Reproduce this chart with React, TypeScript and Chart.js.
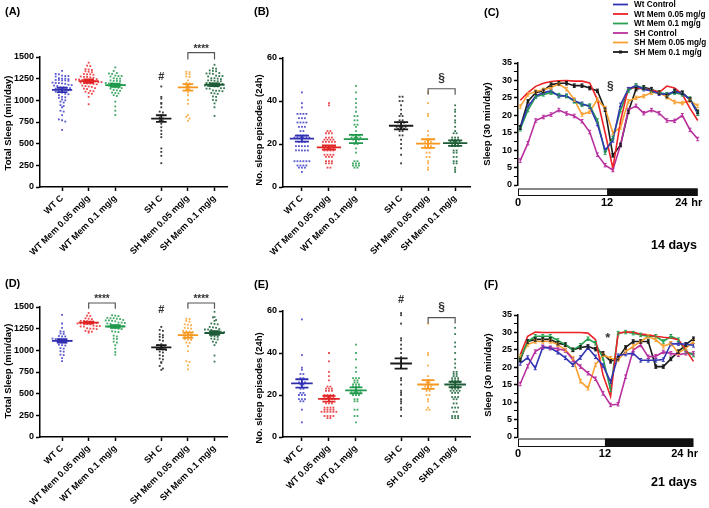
import React, { useEffect, useRef } from "react";
import { Chart, registerables } from "chart.js";
Chart.register(...registerables);

const FONT = "'Liberation Sans', Arial, Helvetica, sans-serif";
const PAGE_W = 709;
const PAGE_H = 508;

// ---------- categories ----------
const LABELS_MEM = ["WT C", "WT Mem 0.05 mg/g", "WT Mem 0.1 mg/g", "SH C", "SH Mem 0.05 mg/g", "SH Mem 0.1 mg/g"];
const LABELS_E = ["WT C", "WT 0.05 mg/g", "WT 0.1 mg/g", "SH C", "SH 0.05 mg/g", "SH0.1 mg/g"];
const POS_AD = [0, 1, 2, 3.73, 4.73, 5.73];
const POS_BE = [0, 1, 2, 3.67, 4.67, 5.67];

// ---------- Panel A: total sleep, 14 days ----------
const A_WTC = [1340, 1305, 1300, 1285, 1280, 1280, 1275, 1255, 1250, 1250, 1245, 1235, 1235, 1230, 1230, 1225, 1205, 1200, 1200, 1195, 1190, 1180, 1175, 1170, 1165, 1150, 1150, 1145, 1140, 1135, 1125, 1120, 1120, 1115, 1100, 1095, 1090, 1075, 1070, 1060, 1040, 1035, 1030, 1010, 1000, 985, 975, 945, 935, 920, 880, 870, 830, 780, 770, 755, 660];
const A_WT005 = [1435, 1400, 1395, 1360, 1355, 1350, 1335, 1330, 1325, 1305, 1300, 1300, 1295, 1275, 1270, 1270, 1265, 1260, 1245, 1240, 1240, 1235, 1230, 1220, 1215, 1215, 1210, 1210, 1205, 1200, 1195, 1195, 1190, 1185, 1170, 1165, 1160, 1155, 1140, 1135, 1130, 1110, 1105, 1100, 1085, 1075, 1040, 955];
const A_WT01 = [1380, 1340, 1315, 1310, 1305, 1285, 1280, 1280, 1275, 1255, 1250, 1250, 1230, 1225, 1225, 1220, 1200, 1195, 1195, 1190, 1185, 1180, 1175, 1170, 1165, 1150, 1145, 1140, 1135, 1120, 1115, 1110, 1090, 1085, 1080, 1060, 1050, 985, 930, 880, 830];
const A_SHC = [1160, 1040, 1020, 970, 960, 920, 870, 860, 830, 800, 790, 770, 760, 730, 690, 650, 610, 575, 445, 405, 360, 275];
const A_SH005 = [1330, 1325, 1305, 1300, 1275, 1270, 1230, 1200, 1195, 1165, 1160, 1130, 1125, 1090, 1060, 1005, 960, 830, 810, 790, 765];
const A_SH01 = [1410, 1370, 1365, 1345, 1340, 1335, 1315, 1310, 1310, 1305, 1285, 1280, 1280, 1275, 1255, 1255, 1250, 1245, 1230, 1230, 1225, 1220, 1220, 1200, 1200, 1195, 1195, 1190, 1190, 1170, 1165, 1165, 1160, 1160, 1140, 1140, 1135, 1135, 1115, 1110, 1110, 1105, 1085, 1080, 1075, 1045, 1040, 1005, 1000, 965, 920, 820];
const A_MEANS = [1120, 1222, 1175, 790, 1150, 1180];
const A_SEMS = [25, 20, 18, 38, 38, 15];

// ---------- Panel B: sleep episodes, 14 days ----------
const B_WTC = [44, 39, 37, 34, 34, 34, 34, 32, 32, 32, 30, 30, 30, 30, 28, 28, 28, 26, 26, 24, 24, 24, 24, 23, 23, 23, 23, 23, 23, 21, 21, 21, 19, 19, 19, 19, 19, 17, 17, 17, 17, 17, 12, 12, 12, 12, 12, 12, 10, 10, 10, 10, 9, 9, 9, 7];
const B_WT005 = [39, 38, 26, 26, 25, 25, 25, 23, 23, 23, 22, 22, 22, 22, 21, 21, 21, 21, 21, 19, 19, 19, 19, 19, 18, 18, 18, 18, 17, 17, 17, 17, 15, 15, 15, 15, 14, 14, 14, 12, 12, 12, 11, 11, 11, 9, 9];
const B_WT01 = [47, 44, 41, 39, 37, 35, 33, 33, 31, 31, 29, 29, 28, 26, 24, 24, 24, 23, 23, 23, 23, 22, 22, 22, 20, 20, 18, 16, 12, 12, 11, 11, 11, 10, 10, 10, 9, 9];
const B_SHC = [42, 42, 40, 40, 38, 36, 34, 33, 33, 31, 31, 30, 30, 30, 28, 28, 28, 28, 27, 27, 27, 26, 26, 24, 24, 22, 20, 18, 15, 11];
const B_SH005 = [44, 39, 34, 33, 26, 24, 22, 22, 21, 21, 21, 19, 19, 19, 18, 18, 16, 16, 14, 14, 12, 11, 9, 8];
const B_SH01 = [38, 36, 35, 33, 31, 30, 28, 26, 25, 25, 23, 23, 23, 22, 22, 22, 21, 21, 21, 21, 20, 20, 20, 19, 19, 19, 17, 17, 16, 16, 14, 14, 12, 12, 11, 11, 9, 8, 7];
const B_MEANS = [22.5, 18.4, 22.3, 28.5, 20.2, 20.4];
const B_SEMS = [1.4, 1.0, 1.9, 1.7, 2.0, 1.3];

// ---------- Panel C: sleep profile, 14 days ----------
const HOURS = [0.3, 1.34, 2.38, 3.42, 4.46, 5.5, 6.54, 7.58, 8.62, 9.66, 10.7, 11.74, 12.78, 13.82, 14.86, 15.9, 16.94, 17.98, 19.02, 20.06, 21.1, 22.14, 23.18, 24.22];
const C_WT_CTRL = [16.5, 22.5, 25.5, 26.5, 27, 25.5, 25.6, 24.2, 23.3, 22.5, 17.5, 10, 12.8, 23, 27.5, 28.5, 27.5, 27, 26.2, 26, 26.8, 26.3, 24.5, 20.5];
const C_WT_005 = [24.3, 26.5, 28.3, 29.2, 29.7, 29.9, 30, 29.8, 29.8, 29.3, 24.5, 15, 4.8, 18.4, 27.8, 28, 27.5, 27.3, 26.6, 28.4, 27.8, 26, 22, 18.5];
const C_WT_01 = [16, 21.5, 25.3, 26, 26.5, 25.8, 25.5, 24, 23, 22.8, 18.5, 9.3, 13.5, 21.5, 27, 28.5, 27.8, 27, 26.5, 26, 26.5, 26, 24.8, 20.5];
const C_SH_CTRL = [7, 12, 18.5, 19.5, 20.2, 21.5, 20.5, 19.8, 18.3, 15.2, 8.7, 5.7, 4.3, 11.5, 21.5, 22.7, 20.6, 21.5, 20.6, 18.5, 18.4, 20, 15.8, 13.2];
const C_SH_005 = [22.5, 26, 26.8, 27.3, 28, 29, 27.5, 24.5, 20.2, 21, 24.5, 22, 15, 16.5, 24, 25, 25.5, 26.5, 26.5, 25.2, 23.8, 23.5, 24.2, 22.7];
const C_SH_01 = [16.5, 24, 26.5, 27, 28.8, 29.2, 29.2, 28.5, 28.5, 27.8, 27, 21.6, 8.5, 11.5, 21, 27.5, 28, 27.5, 26.5, 25.5, 27, 26.5, 24.5, 21];

// ---------- Panel D: total sleep, 21 days ----------
const D_WTC = [1410, 1310, 1260, 1220, 1215, 1195, 1190, 1165, 1160, 1160, 1135, 1130, 1130, 1120, 1115, 1110, 1110, 1095, 1090, 1090, 1065, 1060, 1055, 1025, 1020, 990, 985, 950, 945, 910, 875];
const D_WT005 = [1430, 1400, 1395, 1370, 1365, 1360, 1340, 1340, 1335, 1330, 1330, 1315, 1310, 1310, 1305, 1305, 1300, 1285, 1280, 1280, 1275, 1275, 1255, 1250, 1250, 1245, 1225, 1220, 1215, 1205];
const D_WT01 = [1405, 1400, 1395, 1375, 1370, 1370, 1365, 1360, 1350, 1345, 1345, 1340, 1335, 1320, 1320, 1315, 1310, 1305, 1290, 1290, 1285, 1280, 1275, 1260, 1255, 1250, 1245, 1220, 1215, 1210, 1170, 1160, 1135, 1130, 1100, 1090, 1060, 1020, 980, 950];
const D_SHC = [1270, 1235, 1225, 1185, 1175, 1155, 1150, 1120, 1110, 1070, 1060, 1040, 1035, 1030, 1015, 1010, 1005, 985, 975, 945, 935, 905, 895, 865, 855, 820, 790, 775];
const D_SH005 = [1365, 1360, 1340, 1330, 1300, 1295, 1290, 1260, 1255, 1250, 1225, 1220, 1215, 1210, 1195, 1190, 1185, 1165, 1160, 1155, 1130, 1125, 1120, 1090, 1085, 1050, 990, 875, 865, 825, 780];
const D_SH01 = [1445, 1385, 1380, 1350, 1340, 1310, 1305, 1300, 1270, 1265, 1260, 1245, 1240, 1240, 1235, 1220, 1215, 1215, 1210, 1195, 1190, 1190, 1185, 1165, 1160, 1155, 1135, 1130, 1125, 1100, 1090, 1060, 940, 870];
const D_MEANS = [1110, 1320, 1275, 1035, 1175, 1200];
const D_SEMS = [20, 12, 15, 25, 30, 20];

// ---------- Panel E: sleep episodes, 21 days ----------
const E_WTC = [56, 39, 33, 32, 30, 30, 28, 28, 26, 26, 26, 25, 25, 23, 23, 21, 21, 20, 20, 20, 18, 18, 18, 17, 17, 13, 7];
const E_WT005 = [40, 36, 31, 29, 27, 24, 24, 23, 23, 23, 22, 22, 22, 20, 20, 20, 20, 19, 19, 19, 19, 18, 18, 18, 18, 18, 16, 16, 16, 14, 14, 14, 14, 13, 13, 13, 13, 12, 12, 12, 12, 12, 12, 10, 10, 10, 10, 9, 9];
const E_WT01 = [44, 40, 37, 33, 31, 28, 28, 28, 27, 27, 26, 26, 25, 25, 25, 24, 24, 24, 22, 22, 22, 22, 21, 21, 21, 21, 20, 20, 20, 18, 18, 17, 17, 13, 13, 10, 10, 7];
const E_SHC = [59, 58, 54, 47, 46, 44, 42, 40, 38, 36, 33, 28, 27, 25, 22, 21, 20, 18, 17, 16, 14, 13, 10];
const E_SH005 = [54, 40, 39, 34, 29, 27, 27, 26, 26, 24, 24, 24, 23, 23, 22, 22, 20, 20, 18, 17, 14, 13, 13];
const E_SH01 = [52, 49, 45, 43, 40, 37, 35, 33, 31, 31, 30, 30, 29, 29, 28, 28, 28, 27, 27, 27, 26, 26, 26, 26, 24, 24, 24, 23, 23, 23, 22, 22, 22, 22, 21, 21, 21, 19, 19, 19, 18, 18, 16, 16, 14, 14, 14, 12, 12, 10, 10, 10, 9, 9, 9];
const E_MEANS = [25.5, 18.2, 22.2, 35, 25, 25];
const E_SEMS = [2.0, 1.4, 1.4, 2.4, 2.1, 1.3];

// ---------- Panel F: sleep profile, 21 days ----------
const F_WT_CTRL = [21.1, 22.8, 19.8, 25.7, 25.5, 24.3, 22.7, 20.7, 22.8, 25.6, 23, 20.5, 15.8, 23.3, 23.8, 24, 22, 22, 22, 22.2, 26.7, 26.8, 26.6, 26.3];
const F_WT_005 = [23.6, 28.9, 30.1, 30, 30, 30, 30, 30, 30, 29.8, 27.9, 17.8, 11.6, 29.8, 30.1, 30.1, 29.5, 29.3, 28.9, 28.6, 28.4, 27.9, 25, 21.7];
const F_WT_01 = [22.6, 27.4, 28.9, 28.9, 28.9, 27.7, 26.5, 25, 26.3, 28.2, 26.9, 22.6, 13.5, 29.8, 30.1, 29.8, 29.3, 28.9, 28.9, 27.4, 28.9, 27.9, 24.5, 23.5];
const F_SH_CTRL = [15.2, 20.3, 24.5, 25.9, 25.6, 25.3, 24.8, 22.2, 20.2, 18.3, 16.7, 12.5, 9.2, 9.4, 17.3, 24.9, 26.4, 23, 23.2, 24.4, 24, 23.6, 24, 24];
const F_SH_005 = [23.1, 26.5, 27.4, 27.4, 27.4, 26.5, 25, 22.6, 16, 14, 20.7, 23.6, 22.6, 22.1, 24.5, 26, 27.4, 28.9, 27.9, 26, 26.9, 24.1, 25.5, 27.4];
const F_SH_01 = [22.1, 27.4, 28, 28, 28, 26.9, 26.5, 25, 25.7, 26, 25.2, 24, 21.7, 22.6, 25.7, 27.4, 27.4, 27.4, 20.2, 20.2, 22.4, 24.5, 26.5, 28.2];

const LINE_LABELS = ["Wt Control", "Wt Mem 0.05 mg/g", "Wt Mem 0.1 mg/g", "SH Control", "SH Mem 0.05 mg/g", "SH Mem 0.1 mg/g"];
const LINE_COLORS = ["#3236b2", "#ec2227", "#27a04f", "#b8309e", "#f8a032", "#1a1a1a"];
const DOT_COLORS = ["#5a5ad0", "#ec4a4e", "#42a866", "#3a3a3a", "#f8ad4a", "#3a7854"];
const MEAN_COLORS = ["#2f2fb0", "#e02424", "#1f9a4c", "#1a1a1a", "#f5961e", "#1d5c37"];

// ---------- helpers ----------
function swarm(values: number[], center: number, bin: number, step: number) {
  const sorted = [...values].sort((a, b) => b - a);
  const groups = new Map<number, number[]>();
  sorted.forEach((v) => {
    const k = Math.round(v / bin);
    if (!groups.has(k)) groups.set(k, []);
    groups.get(k)!.push(v);
  });
  const pts: { x: number; y: number }[] = [];
  groups.forEach((arr) => {
    const n = arr.length;
    arr.forEach((v, j) => pts.push({ x: center + (j - (n - 1) / 2) * step, y: v }));
  });
  return pts;
}

function drawText(ctx: CanvasRenderingContext2D, s: string, x: number, y: number, size: number,
  align: CanvasTextAlign = "center", rot = 0, color = "#000", baseline: CanvasTextBaseline = "middle") {
  ctx.save();
  ctx.translate(x, y);
  if (rot) ctx.rotate(rot);
  ctx.font = `bold ${size}px ${FONT}`;
  ctx.fillStyle = color;
  ctx.textAlign = align;
  ctx.textBaseline = baseline;
  ctx.fillText(s, 0, 0);
  ctx.restore();
}

const axisGrid = { display: true, drawOnChartArea: false, drawTicks: true, tickLength: 4, tickColor: "#000", tickWidth: 1.5 };
const axisBorder = { display: true, color: "#000", width: 1.5 };
const tickFont = { family: FONT, size: 9, weight: "bold" as const };

function scatterConfig(s: any) {
  const datasets: any[] = [];
  s.groups.forEach((g: number[], i: number) => {
    const p = s.pos[i], m = s.means[i], e = s.sems[i];
    datasets.push({
      data: [
        { x: p - s.hw, y: m }, { x: p + s.hw, y: m }, { x: p, y: null },
        { x: p - s.cw, y: m + e }, { x: p + s.cw, y: m + e }, { x: p, y: null },
        { x: p - s.cw, y: m - e }, { x: p + s.cw, y: m - e }, { x: p, y: null },
        { x: p, y: m - e }, { x: p, y: m + e },
      ],
      showLine: true, spanGaps: false, borderColor: MEAN_COLORS[i], borderWidth: 1.8, pointRadius: 0,
    });
  });
  s.groups.forEach((g: number[], i: number) => {
    datasets.push({
      data: swarm(g, s.pos[i], s.bin, s.step), showLine: false, pointStyle: "rect", pointRadius: 1.3,
      pointBorderWidth: 0, backgroundColor: DOT_COLORS[i], borderColor: DOT_COLORS[i],
    });
  });
  const XH = 72;
  return {
    type: "scatter",
    data: { datasets },
    options: {
      animation: false, responsive: false, maintainAspectRatio: false, events: [],
      layout: { padding: { left: s.area.l - 40, top: s.area.t, right: PAGE_W - s.area.r, bottom: PAGE_H - s.area.b - XH } },
      plugins: { legend: { display: false }, tooltip: { enabled: false } },
      scales: {
        x: {
          type: "linear", min: s.xMin, max: s.xMax,
          afterBuildTicks: (sc: any) => { sc.ticks = s.pos.map((v: number) => ({ value: v })); },
          afterFit: (sc: any) => { sc.height = XH; },
          ticks: { autoSkip: false, minRotation: 45, maxRotation: 45, padding: 2, color: "#000", font: tickFont,
            callback: (_v: any, i: number) => s.labels[i] },
          grid: axisGrid, border: axisBorder,
        },
        y: {
          min: 0, max: s.yMax,
          afterFit: (sc: any) => { sc.width = 40; },
          ticks: { stepSize: s.yStep, padding: 2, color: "#000", font: tickFont, callback: (v: number) => String(v) },
          grid: axisGrid, border: axisBorder,
        },
      },
    },
    plugins: [{
      id: "deco",
      afterDraw(chart: any) {
        const ctx = chart.ctx; const sx = chart.scales.x; const sy = chart.scales.y;
        drawText(ctx, s.panel, s.panelX, s.panelY, 11, "left", 0, "#000", "alphabetic");
        drawText(ctx, s.title, s.titleX, s.titleY, 9.5, "center", -Math.PI / 2);
        ctx.save();
        ctx.strokeStyle = "#555"; ctx.lineWidth = 1.2;
        s.brackets.forEach((b: any) => {
          const x1 = sx.getPixelForValue(b.x1), x2 = sx.getPixelForValue(b.x2);
          const y = sy.getPixelForValue(b.y), yl = sy.getPixelForValue(b.yLeg);
          ctx.beginPath(); ctx.moveTo(x1, yl); ctx.lineTo(x1, y); ctx.lineTo(x2, y); ctx.lineTo(x2, yl); ctx.stroke();
        });
        ctx.restore();
        s.marks.forEach((m: any) => drawText(ctx, m.text, sx.getPixelForValue(m.x), sy.getPixelForValue(m.y), m.size, "center", 0, "#333"));
      },
    }],
  };
}

function lineConfig(s: any) {
  const datasets = s.series.map((vals: number[], i: number) => ({
    label: LINE_LABELS[i],
    data: HOURS.map((h, j) => ({ x: h, y: vals[j] })),
    borderColor: LINE_COLORS[i], backgroundColor: LINE_COLORS[i], borderWidth: 1.6,
    pointRadius: i === 5 ? 1.8 : 0, pointStyle: "rect", pointBorderWidth: 0, tension: 0, clip: false,
    errBar: i !== 1,
  }));
  return {
    type: "line",
    data: { datasets },
    options: {
      animation: false, responsive: false, maintainAspectRatio: false, events: [],
      layout: { padding: { left: s.area.l - 40, top: s.area.t, right: PAGE_W - s.area.r, bottom: PAGE_H - s.area.b } },
      plugins: { legend: { display: false }, tooltip: { enabled: false } },
      scales: {
        x: { type: "linear", display: false, min: 0, max: s.xMax },
        y: {
          min: 0, max: 35,
          afterFit: (sc: any) => { sc.width = 40; },
          ticks: { stepSize: 2.5, autoSkip: false, padding: 2, color: "#000", font: tickFont,
            callback: (v: number) => (v % 5 === 0 ? String(v) : "") },
          grid: { ...axisGrid, tickWidth: (c: any) => (c.tick && c.tick.value % 5 === 0 ? 1.5 : 1) },
          border: axisBorder,
        },
      },
    },
    plugins: [{
      id: "deco",
      beforeDatasetsDraw(chart: any) {
        const ctx = chart.ctx; const sx = chart.scales.x;
        const x0 = sx.getPixelForValue(0), x12 = sx.getPixelForValue(12), x1 = sx.getPixelForValue(s.xMax);
        const yb = chart.chartArea.bottom + s.barGap;
        ctx.save();
        ctx.fillStyle = "#fff"; ctx.fillRect(x0, yb, x12 - x0, s.barH);
        ctx.fillStyle = "#111"; ctx.fillRect(x12, yb, x1 - x12, s.barH);
        ctx.strokeStyle = "#111"; ctx.lineWidth = 1; ctx.strokeRect(x0 + 0.5, yb + 0.5, x1 - x0 - 1, s.barH - 1);
        ctx.restore();
        const ly = yb + s.barH + s.labelGap;
        drawText(ctx, "0", sx.getPixelForValue(0), ly, 11);
        drawText(ctx, "12", sx.getPixelForValue(12), ly, 11);
        drawText(ctx, "24", sx.getPixelForValue(22), ly, 11);
        drawText(ctx, "hr", sx.getPixelForValue(24.1), ly, 11);
      },
      afterDatasetsDraw(chart: any) {
        const ctx = chart.ctx; const sy = chart.scales.y;
        ctx.save();
        chart.data.datasets.forEach((ds: any, i: number) => {
          if (!ds.errBar) return;
          const meta = chart.getDatasetMeta(i);
          ctx.strokeStyle = ds.borderColor; ctx.lineWidth = 1;
          meta.data.forEach((pt: any, j: number) => {
            const v = ds.data[j].y;
            const yt = sy.getPixelForValue(v + 0.5), ybt = sy.getPixelForValue(v - 0.5);
            ctx.beginPath();
            ctx.moveTo(pt.x, yt); ctx.lineTo(pt.x, ybt);
            ctx.moveTo(pt.x - 1.5, yt); ctx.lineTo(pt.x + 1.5, yt);
            ctx.moveTo(pt.x - 1.5, ybt); ctx.lineTo(pt.x + 1.5, ybt);
            ctx.stroke();
          });
        });
        ctx.restore();
      },
      afterDraw(chart: any) {
        const ctx = chart.ctx; const sx = chart.scales.x; const sy = chart.scales.y;
        drawText(ctx, s.panel, s.panelX, s.panelY, 11, "left", 0, "#000", "alphabetic");
        drawText(ctx, "Sleep (30 min/day)", s.titleX, s.titleY, 9.5, "center", -Math.PI / 2);
        drawText(ctx, s.mark.text, sx.getPixelForValue(s.mark.x), sy.getPixelForValue(s.mark.y), s.mark.size, "center", 0, "#333");
        drawText(ctx, s.days, s.daysX, s.daysY, 12.5);
        if (s.legend) {
          const rows = [4.5, 14, 23.5, 33, 42.5, 52];
          LINE_LABELS.forEach((lab, i) => {
            ctx.save();
            ctx.strokeStyle = LINE_COLORS[i]; ctx.lineWidth = 1.8;
            ctx.beginPath(); ctx.moveTo(613, rows[i]); ctx.lineTo(628, rows[i]); ctx.stroke();
            if (i === 5) { ctx.fillStyle = LINE_COLORS[i]; ctx.fillRect(619, rows[i] - 1.5, 3, 3); }
            ctx.restore();
            drawText(ctx, lab, 634, rows[i] + 0.5, 8.2, "left");
          });
        }
      },
    }],
  };
}

const CONFIGS = [
  () => scatterConfig({
    groups: [A_WTC, A_WT005, A_WT01, A_SHC, A_SH005, A_SH01], means: A_MEANS, sems: A_SEMS, pos: POS_AD, labels: LABELS_MEM,
    yMax: 1500, yStep: 250, bin: 35, step: 0.12, hw: 0.38, cw: 0.2, xMin: -0.83, xMax: 6.2,
    area: { l: 40, t: 57, r: 227, b: 187 }, title: "Total Sleep (min/day)", titleX: 8, titleY: 123,
    panel: "(A)", panelX: 5, panelY: 15,
    brackets: [{ x1: POS_AD[4], x2: POS_AD[5], y: 1550, yLeg: 1470 }],
    marks: [{ text: "****", x: (POS_AD[4] + POS_AD[5]) / 2, y: 1585, size: 10 }, { text: "#", x: POS_AD[3], y: 1270, size: 11 }],
  }),
  () => scatterConfig({
    groups: [B_WTC, B_WT005, B_WT01, B_SHC, B_SH005, B_SH01], means: B_MEANS, sems: B_SEMS, pos: POS_BE, labels: LABELS_MEM,
    yMax: 60, yStep: 20, bin: 1, step: 0.11, hw: 0.45, cw: 0.26, xMin: -0.7, xMax: 6.22,
    area: { l: 283, t: 58, r: 470, b: 187 }, title: "No. sleep episodes (24h)", titleX: 259, titleY: 130,
    panel: "(B)", panelX: 254, panelY: 15,
    brackets: [{ x1: POS_BE[4], x2: POS_BE[5], y: 45.7, yLeg: 42.9 }],
    marks: [{ text: "§", x: (POS_BE[4] + POS_BE[5]) / 2, y: 50.3, size: 12 }],
  }),
  () => lineConfig({
    series: [C_WT_CTRL, C_WT_005, C_WT_01, C_SH_CTRL, C_SH_005, C_SH_01],
    area: { l: 518, t: 63, r: 697.6, b: 185 }, xMax: 24.2, barGap: 3.5, barH: 7.5, labelGap: 7,
    panel: "(C)", panelX: 484, panelY: 16, titleX: 487.5, titleY: 124,
    mark: { text: "§", x: 12.44, y: 28.2, size: 12 }, days: "14 days", daysX: 674, daysY: 246, legend: true,
  }),
  () => scatterConfig({
    groups: [D_WTC, D_WT005, D_WT01, D_SHC, D_SH005, D_SH01], means: D_MEANS, sems: D_SEMS, pos: POS_AD, labels: LABELS_MEM,
    yMax: 1500, yStep: 250, bin: 35, step: 0.12, hw: 0.38, cw: 0.2, xMin: -0.83, xMax: 6.2,
    area: { l: 40, t: 307, r: 227, b: 437 }, title: "Total Sleep (min/day)", titleX: 8, titleY: 371,
    panel: "(D)", panelX: 5, panelY: 287,
    brackets: [{ x1: POS_AD[1], x2: POS_AD[2], y: 1546, yLeg: 1481 }, { x1: POS_AD[4], x2: POS_AD[5], y: 1546, yLeg: 1481 }],
    marks: [
      { text: "****", x: (POS_AD[1] + POS_AD[2]) / 2, y: 1585, size: 10 },
      { text: "****", x: (POS_AD[4] + POS_AD[5]) / 2, y: 1585, size: 10 },
      { text: "#", x: POS_AD[3], y: 1462, size: 11 },
    ],
  }),
  () => scatterConfig({
    groups: [E_WTC, E_WT005, E_WT01, E_SHC, E_SH005, E_SH01], means: E_MEANS, sems: E_SEMS, pos: POS_BE, labels: LABELS_E,
    yMax: 60, yStep: 20, bin: 1, step: 0.11, hw: 0.4, cw: 0.24, xMin: -0.7, xMax: 6.22,
    area: { l: 283, t: 311, r: 470, b: 437 }, title: "No. sleep episodes (24h)", titleX: 259, titleY: 388,
    panel: "(E)", panelX: 254, panelY: 288,
    brackets: [{ x1: POS_BE[4], x2: POS_BE[5], y: 56.8, yLeg: 54.1 }],
    marks: [{ text: "§", x: (POS_BE[4] + POS_BE[5]) / 2, y: 61.5, size: 12 }, { text: "#", x: POS_BE[3], y: 65.2, size: 11 }],
  }),
  () => lineConfig({
    series: [F_WT_CTRL, F_WT_005, F_WT_01, F_SH_CTRL, F_SH_005, F_SH_01],
    area: { l: 518, t: 315, r: 693.3, b: 437 }, xMax: 24.2, barGap: 1.5, barH: 8.5, labelGap: 6.5,
    panel: "(F)", panelX: 484, panelY: 288, titleX: 488, titleY: 375,
    mark: { text: "*", x: 12.4, y: 28.2, size: 13 }, days: "21 days", daysX: 674, daysY: 483, legend: false,
  }),
];

function ChartLayer({ make }: { make: () => any }) {
  const ref = useRef<HTMLCanvasElement>(null);
  useEffect(() => {
    const chart = new Chart(ref.current as HTMLCanvasElement, make());
    return () => chart.destroy();
  }, [make]);
  return (
    <canvas ref={ref} width={PAGE_W} height={PAGE_H}
      style={{ position: "absolute", left: 0, top: 0, width: PAGE_W, height: PAGE_H }} />
  );
}

export default function App() {
  return (
    <div style={{ position: "fixed", left: 0, top: 0, width: PAGE_W, height: PAGE_H, background: "#fff", overflow: "hidden" }}>
      {CONFIGS.map((make, i) => <ChartLayer key={i} make={make} />)}
    </div>
  );
}
